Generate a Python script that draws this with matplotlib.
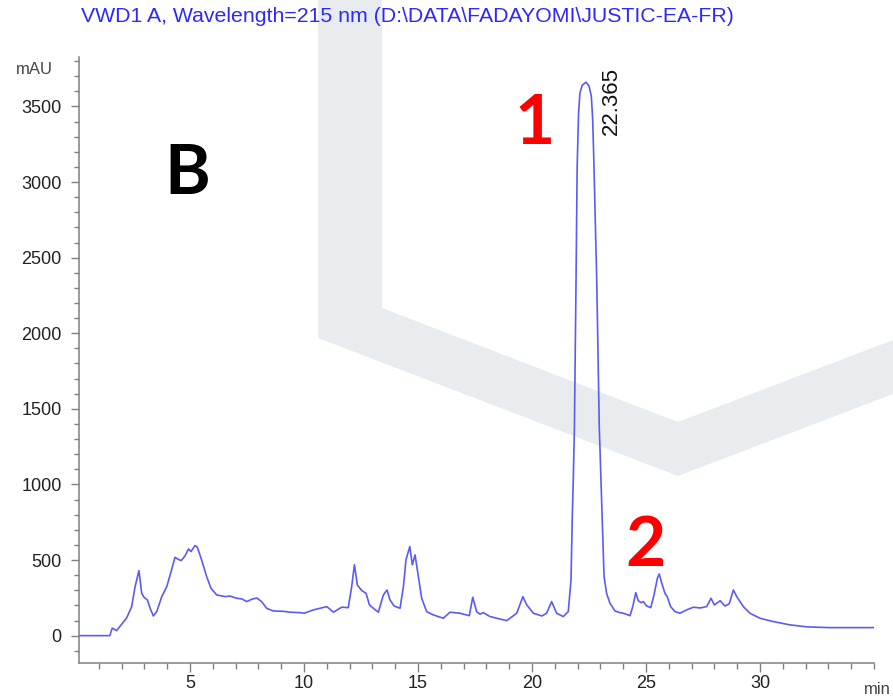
import matplotlib
matplotlib.use("Agg")
import matplotlib.pyplot as plt
from matplotlib.patches import Polygon
from matplotlib.ticker import MultipleLocator

# ---- data ----
time_min = [0.13, 1.48, 1.59, 1.78, 2.22, 2.44, 2.59, 2.76, 2.88, 2.98, 3.13, 3.25, 3.39, 3.54,
            3.76, 3.98, 4.15, 4.34, 4.42, 4.61, 4.78, 4.93, 5.04, 5.22, 5.32, 5.51, 5.73, 5.92,
            6.17, 6.54, 6.75, 7.05, 7.27, 7.49, 7.71, 7.93, 8.14, 8.36, 8.65, 9.09, 9.39, 9.82,
            10.0, 10.41, 11.0, 11.29, 11.65, 11.94, 12.09, 12.21, 12.34, 12.53, 12.72, 12.87,
            13.04, 13.26, 13.48, 13.64, 13.77, 13.95, 14.21, 14.36, 14.47, 14.64, 14.75, 14.87,
            14.97, 15.16, 15.38, 15.67, 16.11, 16.4, 16.84, 17.25, 17.4, 17.57, 17.72, 17.86,
            18.16, 18.89, 19.33, 19.6, 19.77, 20.06, 20.43, 20.64, 20.86, 21.08, 21.37, 21.59,
            21.71, 21.77, 21.81, 21.86, 21.93, 21.98, 22.04, 22.1, 22.2, 22.37, 22.5, 22.6,
            22.66, 22.71, 22.77, 22.84, 22.95, 23.03, 23.09, 23.16, 23.27, 23.42, 23.64, 23.86,
            24.0, 24.3, 24.42, 24.55, 24.66, 24.78, 24.88, 25.03, 25.21, 25.35, 25.5, 25.58,
            25.69, 25.83, 25.93, 26.08, 26.27, 26.49, 26.78, 27.08, 27.37, 27.66, 27.85, 28.0,
            28.25, 28.46, 28.65, 28.83, 28.98, 29.27, 29.56, 30.0, 30.58, 31.32, 32.05, 33.07,
            34.97]
signal_mAU = [0, 0, 50, 33, 117, 192, 324, 430, 280, 254, 236, 181, 130, 159,
              258, 324, 413, 518, 510, 496, 527, 573, 556, 596, 585, 500, 390, 313,
              269, 258, 262, 247, 243, 225, 241, 249, 225, 181, 163, 161, 155, 152,
              148, 170, 192, 155, 188, 185, 324, 468, 335, 298, 280, 203,
              181, 155, 269, 302, 236, 196, 181, 324, 500, 589, 468, 534,
              435, 247, 159, 137, 115, 155, 148, 132, 254, 159, 142, 152,
              126, 99, 148, 258, 203, 148, 130, 148, 225, 148, 126, 159,
              368, 810, 1030, 1380, 2340, 3100, 3450, 3587, 3640, 3660, 3635, 3570,
              3420, 3150, 2780, 2340, 1380, 1000, 700, 390, 280, 214, 163, 152,
              148, 132, 192, 284, 231, 218, 225, 196, 185, 269, 380, 408,
              347, 280, 258, 192, 159, 148, 170, 188, 183, 192, 247, 203,
              231, 196, 210, 302, 258, 192, 148, 115, 93, 71, 58, 53,
              53]

peak_time = 22.365
peak_height = 3660
title_text = "VWD1 A, Wavelength=215 nm (D:\\DATA\\FADAYOMI\\JUSTIC-EA-FR)"
y_ticks = [0, 500, 1000, 1500, 2000, 2500, 3000, 3500]
x_ticks = [5, 10, 15, 20, 25, 30]

W, H = 893, 696
fig = plt.figure(figsize=(W / 100, H / 100), dpi=100)

def px(x, y):
    return (x / W, 1 - y / H)

# background watermark (light grey chevron)
wm = [(318, 0), (382, 0), (382, 308), (678, 422), (893, 340), (893, 394), (678, 476), (318, 338)]
fig.patches.append(Polygon([px(a, b) for a, b in wm], closed=True, transform=fig.transFigure,
                           facecolor="#e9ecef", edgecolor="none", zorder=-5))

ax = fig.add_axes([79 / W, 1 - 663.3 / H, (874 - 79) / W, (663.3 - 57.3) / H])
ax.patch.set_alpha(0)
ax.plot(time_min, signal_mAU, color="#5b5bf5", lw=1.2, solid_joinstyle="round")

ax.set_xlim(0.13, 35)
ax.set_ylim(-183, 3825)
ax.set_xticks(x_ticks)
ax.set_yticks(y_ticks)
ax.xaxis.set_minor_locator(MultipleLocator(1))
ax.yaxis.set_minor_locator(MultipleLocator(100))

for s in ["top", "right"]:
    ax.spines[s].set_visible(False)
for s in ["left", "bottom"]:
    ax.spines[s].set_color("#808080")
    ax.spines[s].set_linewidth(1.1)

ax.tick_params(axis="both", which="both", color="#808080", width=1.0, labelcolor="#222222")
ax.tick_params(axis="y", which="major", length=5.5, pad=7)
ax.tick_params(axis="y", which="minor", length=3.5)
ax.tick_params(axis="x", which="major", length=6.5, pad=2)
ax.tick_params(axis="x", which="minor", length=4.5)
for lab in ax.get_xticklabels() + ax.get_yticklabels():
    lab.set_fontfamily("Liberation Sans")
    lab.set_fontsize(13)

# texts
fig.text(81 / W, 1 - 16 / H, title_text, color="#2a2aff", fontsize=15.3,
         family="Liberation Sans", ha="left", va="center")
fig.text(53 / W, 1 - 69 / H, "mAU", color="#444444", fontsize=12,
         family="Liberation Sans", ha="right", va="center")
fig.text(877 / W, 1 - 690 / H, "min", color="#444444", fontsize=12,
         family="Liberation Sans", ha="center", va="center")

fig.text(187 / W, 1 - 174 / H, "B", color="black", fontsize=50, fontweight="bold",
         family="Lato", ha="center", va="center")
fig.text(535 / W, 1 - 125 / H, "1", color="red", fontsize=50, fontweight="bold",
         family="Lato", ha="center", va="center")
fig.text(646 / W, 1 - 547 / H, "2", color="red", fontsize=50, fontweight="bold",
         family="Lato", ha="center", va="center")

ax.annotate(f"{peak_time:.3f}", xy=(peak_time, peak_height), xytext=(25, -19),
            textcoords="offset pixels", rotation=90, ha="center", va="center",
            fontsize=16, family="Liberation Sans", color="#111111")

fig.savefig("out.png", dpi=100)
